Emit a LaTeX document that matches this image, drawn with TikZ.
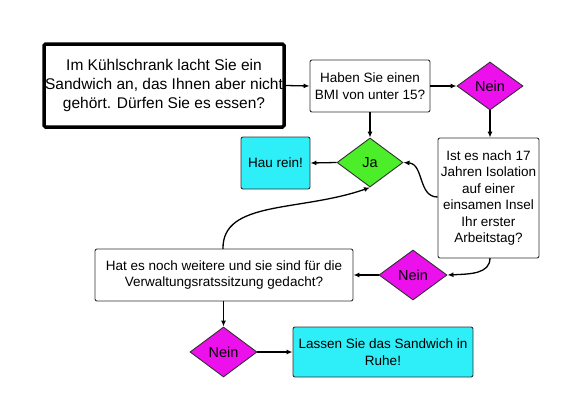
\documentclass[tikz,border=0pt]{standalone}
\usepackage{fontspec}
\setmainfont{Liberation Sans}
\usetikzlibrary{shapes.geometric,arrows.meta}
\definecolor{mag}{HTML}{EC10EC}
\definecolor{grn}{HTML}{4CEE2A}
\definecolor{cyn}{HTML}{2EEEF8}
\definecolor{edge}{HTML}{303030}
\tikzset{
  box/.style={draw=edge, line width=0.9pt, rounded corners=2pt, fill=white, align=center, inner sep=0pt, font=\fontsize{13.5}{16.5}\selectfont},
  endbox/.style={box, fill=cyn},
  dia/.style={diamond, draw=edge, line width=0.9pt, inner sep=0pt, font=\fontsize{14.5}{16}\selectfont},
  conn/.style={line width=1.3pt, -{Latex[length=6pt,width=5pt]}},
}
\begin{document}
\begin{tikzpicture}[x=1pt,y=-1pt]
\useasboundingbox (0,0) rectangle (582,408);
\node[draw=black, line width=3.5pt, rounded corners=1.5pt, minimum width=240pt, minimum height=83pt, align=center, inner sep=0pt, font=\fontsize{15.5}{19}\selectfont] (start) at (164,85.5) {Im Kühlschrank lacht Sie ein\\Sandwich an, das Ihnen aber nicht\\gehört. Dürfen Sie es essen?};
\node[box, minimum width=120pt, minimum height=52pt, font=\fontsize{13.5}{17}\selectfont] (bmi) at (370,86) {Haben Sie einen\\BMI von unter 15?};
\node[dia, fill=mag, minimum width=66pt, minimum height=48pt] (nein1) at (490,86) {Nein};
\node[box, minimum width=101pt, minimum height=120pt] (ist) at (488.5,198) {Ist es nach 17\\Jahren Isolation\\auf einer\\einsamen Insel\\Ihr erster\\Arbeitstag?};
\node[dia, fill=grn, minimum width=66pt, minimum height=49pt] (ja) at (370,162.5) {Ja};
\node[endbox, minimum width=69pt, minimum height=52pt] (hau) at (275.5,163) {Hau rein!};
\node[box, minimum width=258pt, minimum height=52pt] (hat) at (224,275) {Hat es noch weitere und sie sind für die\\Verwaltungsratssitzung gedacht?};
\node[dia, fill=mag, minimum width=68pt, minimum height=50pt] (nein2) at (413,275) {Nein};
\node[dia, fill=mag, minimum width=67pt, minimum height=50pt] (nein3) at (223.5,352) {Nein};
\node[endbox, minimum width=180pt, minimum height=50pt] (lassen) at (383,352) {Lassen Sie das Sandwich in\\Ruhe!};
\draw[conn] (start.east) -- (bmi.west);
\draw[conn, line width=2pt] (bmi.east) -- (nein1.west);
\draw[conn] (nein1.south) -- (ist.north -| nein1.south);
\draw[conn] (bmi.south) -- (ja.north);
\draw[conn] (ja.west) -- (hau.east);
\coordinate (istl) at (ist.west |- 0,197);
\draw[conn] (istl) .. controls (418,197) and (424,164) .. (ja.east);
\coordinate (hatt) at (223,249);
\draw[conn] (hatt) .. controls (222,200) and (300,212) .. (ja.south);
\coordinate (istb) at (490,258);
\draw[conn] (istb) .. controls (490,274) and (470,274) .. (nein2.east);
\draw[conn] (nein2.west) -- (hat.east |- nein2.west);
\draw[conn] (hat.south -| nein3.north) -- (nein3.north);
\draw[conn] (nein3.east) -- (lassen.west);
\end{tikzpicture}
\end{document}
